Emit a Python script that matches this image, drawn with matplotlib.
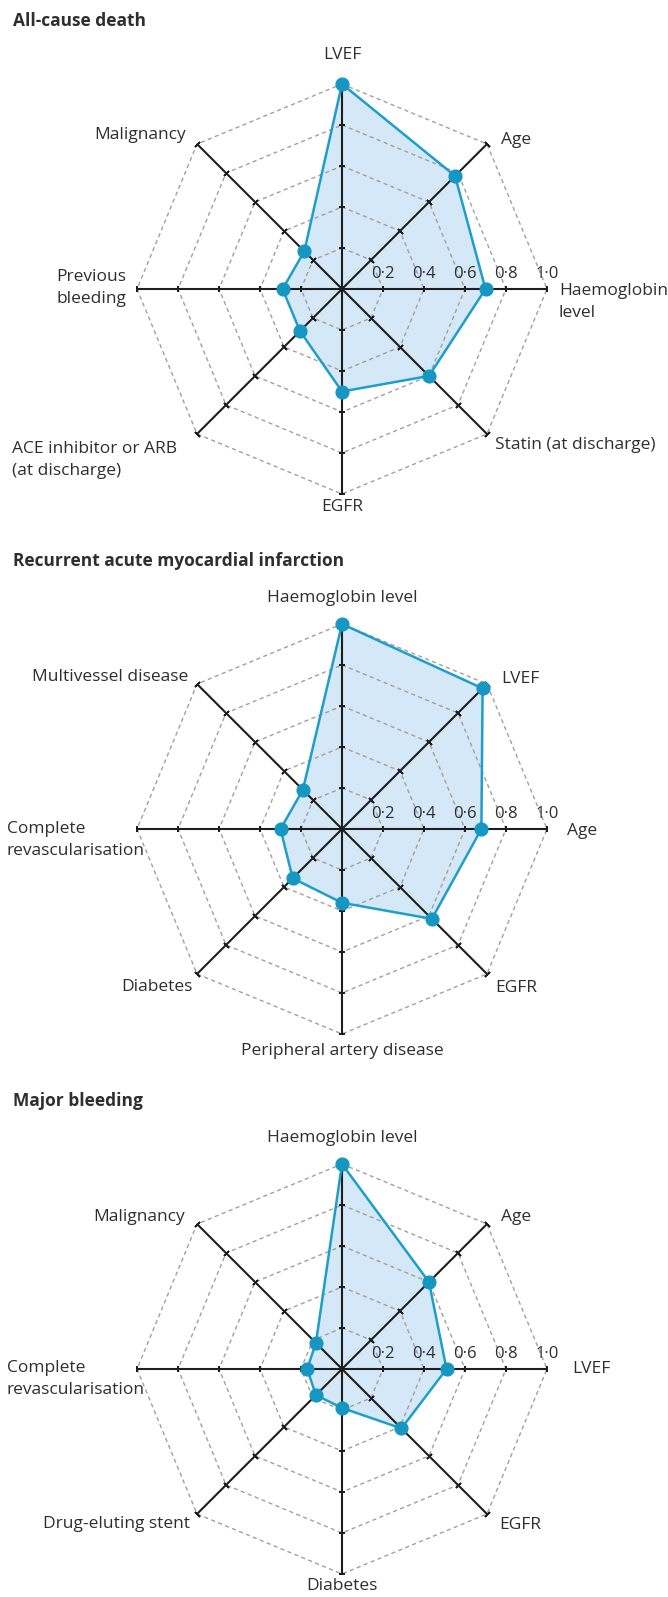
import numpy as np
import matplotlib
matplotlib.use("Agg")
import matplotlib.pyplot as plt

plt.rcParams["font.family"] = ["Open Sans", "DejaVu Sans"]

# ---- data -------------------------------------------------------------
titles = ["All-cause death",
          "Recurrent acute myocardial infarction",
          "Major bleeding"]

death_labels = ["LVEF", "Age", "Haemoglobin\nlevel", "Statin (at discharge)",
                "EGFR", "ACE inhibitor or ARB\n(at discharge)",
                "Previous\nbleeding", "Malignancy"]
death_values = [1.00, 0.78, 0.70, 0.60, 0.50, 0.29, 0.29, 0.26]

ami_labels = ["Haemoglobin level", "LVEF", "Age", "EGFR",
              "Peripheral artery disease", "Diabetes",
              "Complete\nrevascularisation", "Multivessel disease"]
ami_values = [1.00, 0.97, 0.68, 0.62, 0.36, 0.34, 0.30, 0.27]

bleed_labels = ["Haemoglobin level", "Age", "LVEF", "EGFR", "Diabetes",
                "Drug-eluting stent", "Complete\nrevascularisation",
                "Malignancy"]
bleed_values = [1.00, 0.60, 0.51, 0.41, 0.19, 0.18, 0.17, 0.18]

ring_levels = [0.2, 0.4, 0.6, 0.8, 1.0]
ring_texts = ["0·2", "0·4", "0·6", "0·8", "1·0"]

# ---- layout (pixels) ----------------------------------------------------
W, H, DPI = 668, 1597, 100
CX = 342
CENTERS_Y = [289, 829, 1369]
R = 205
PT = 72.0 / DPI  # pixels -> points

# label offsets from the spoke tips: (dx px, dy px up, horizontal alignment)
label_offsets = [
    [(0, 29, "center"), (14, 4, "left"), (12, -13, "left"), (8, -11, "left"),
     (0, -13, "center"), (-20, -26, "right"), (-11, 1, "right"), (-11, 9, "right")],
    [(0, 26, "center"), (14, 5, "left"), (20, -2, "left"), (8, -14, "left"),
     (0, -17, "center"), (-4, -13, "right"), (8, -11, "right"), (-9, 7, "right")],
    [(0, 26, "center"), (14, 7, "left"), (25, 0, "left"), (12, -11, "left"),
     (0, -12, "center"), (-7, -10, "right"), (8, -10, "right"), (-12, 7, "right")],
]

LINE_BLUE = "#1f9ec8"
DOT_BLUE = "#1597c1"
FILL_BLUE = "#d5e8f7"
SPOKE = "#1e1e1e"
GRID = "#a0a0a0"
TEXT = "#2e2e2e"

fig = plt.figure(figsize=(W / DPI, H / DPI), dpi=DPI)
fig.patch.set_facecolor("white")

panels = [(death_labels, death_values), (ami_labels, ami_values),
          (bleed_labels, bleed_values)]

for k, ((labels, values), cy) in enumerate(zip(panels, CENTERS_Y)):
    rect = [(CX - R) / W, (H - cy - R) / H, 2 * R / W, 2 * R / H]
    ax = fig.add_axes(rect, projection="polar")
    ax.set_theta_zero_location("N")
    ax.set_theta_direction(-1)
    ax.set_ylim(0, 1)
    ax.set_axis_off()

    n = len(labels)
    theta = np.arange(n) * 2 * np.pi / n
    theta_closed = np.append(theta, theta[0])
    vals_closed = np.append(values, values[0])

    # filled profile
    ax.fill(theta_closed, vals_closed, color=FILL_BLUE, zorder=1,
            clip_on=False, lw=0)

    # dashed octagonal rings
    for lev in ring_levels:
        ax.plot(theta_closed, [lev] * (n + 1), color=GRID, lw=1.0,
                linestyle=(0, (3.0, 2.4)), zorder=2, clip_on=False)

    # spokes with perpendicular tick marks
    for t in theta:
        ax.plot([t, t], [0, 1], color=SPOKE, lw=1.5, zorder=3,
                clip_on=False, solid_capstyle="butt")
        rot = 90 - np.degrees(t)
        ax.plot([t] * len(ring_levels), ring_levels, linestyle="none",
                marker=(2, 2, rot), markersize=5.0, markeredgewidth=1.2,
                color=SPOKE, zorder=3, clip_on=False)

    # profile outline and points
    ax.plot(theta_closed, vals_closed, color=LINE_BLUE, lw=1.8, zorder=4,
            clip_on=False)
    ax.plot(theta, values, linestyle="none", marker="o", markersize=9.2,
            color=DOT_BLUE, zorder=5, clip_on=False)

    # scale labels along the right-hand spoke
    for lev, txt in zip(ring_levels, ring_texts):
        ax.annotate(txt, xy=(np.pi / 2, lev), xytext=(0, 15 * PT),
                    textcoords="offset points", ha="center", va="center",
                    fontsize=12, color=TEXT, zorder=6)

    # category labels at the spoke tips
    for t, lab, (dx, dy, ha) in zip(theta, labels, label_offsets[k]):
        ax.annotate(lab, xy=(t, 1.0), xytext=(dx * PT, dy * PT),
                    textcoords="offset points", ha=ha, va="center",
                    multialignment="left", linespacing=1.45,
                    fontsize=12.5, color=TEXT, annotation_clip=False)

    # panel title
    fig.text(13 / W, 1 - (cy - 268) / H, titles[k], ha="left", va="center",
             fontsize=12.5, fontweight="bold", color=TEXT)

fig.savefig("out.png", dpi=DPI, facecolor="white")
